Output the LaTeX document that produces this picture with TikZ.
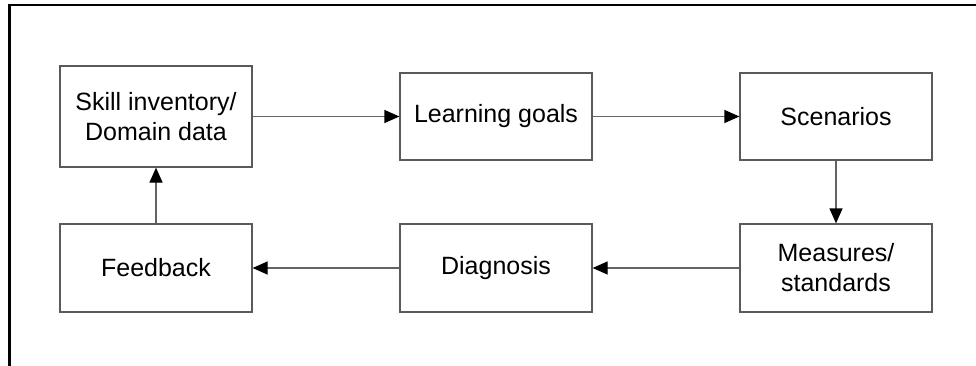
\documentclass[tikz,border=0pt]{standalone}
\usepackage{fontspec}
\setmainfont{Liberation Sans}
\usepackage{xcolor}
\usepackage{tikz}
\usetikzlibrary{arrows.meta, positioning}
\definecolor{boxgray}{RGB}{90, 90, 90}
\definecolor{linegray}{RGB}{100, 100, 100}

\begin{document}
\begin{tikzpicture}[x=1pt, y=-1pt,
    block/.style={draw=boxgray, line width=1.2pt, minimum width=192pt, minimum height=87pt,
        inner sep=0pt, align=center, font=\fontsize{25}{30}\selectfont},
    flow/.style={linegray, line width=1.2pt, -{Triangle[length=15pt, width=13pt, black]}}]
    \useasboundingbox (0,0) rectangle (976,366);

    % Outer frame (only top and left edges show)
    \draw[line width=2.2pt] (976,5) -- (9.5,5) -- (9.5,366);

    % Top row
    \node[block, minimum height=101pt] (skill) at (156,116.5) {Skill inventory/\\Domain data};
    \node[block] (goals) at (496,116.5) {Learning goals};
    \node[block] (scenarios) at (836,116.5) {Scenarios};

    % Bottom row
    \node[block, minimum height=88pt] (measures) at (836,268) {Measures/\\standards};
    \node[block, minimum height=88pt] (diagnosis) at (496,268) {Diagnosis};
    \node[block, minimum height=88pt] (feedback) at (156,268) {Feedback};

    % Cycle
    \draw[flow] (skill) -- (goals);
    \draw[flow] (goals) -- (scenarios);
    \draw[flow] (scenarios) -- (measures);
    \draw[flow] (measures) -- (diagnosis);
    \draw[flow] (diagnosis) -- (feedback);
    \draw[flow] (feedback) -- (skill);
\end{tikzpicture}
\end{document}
